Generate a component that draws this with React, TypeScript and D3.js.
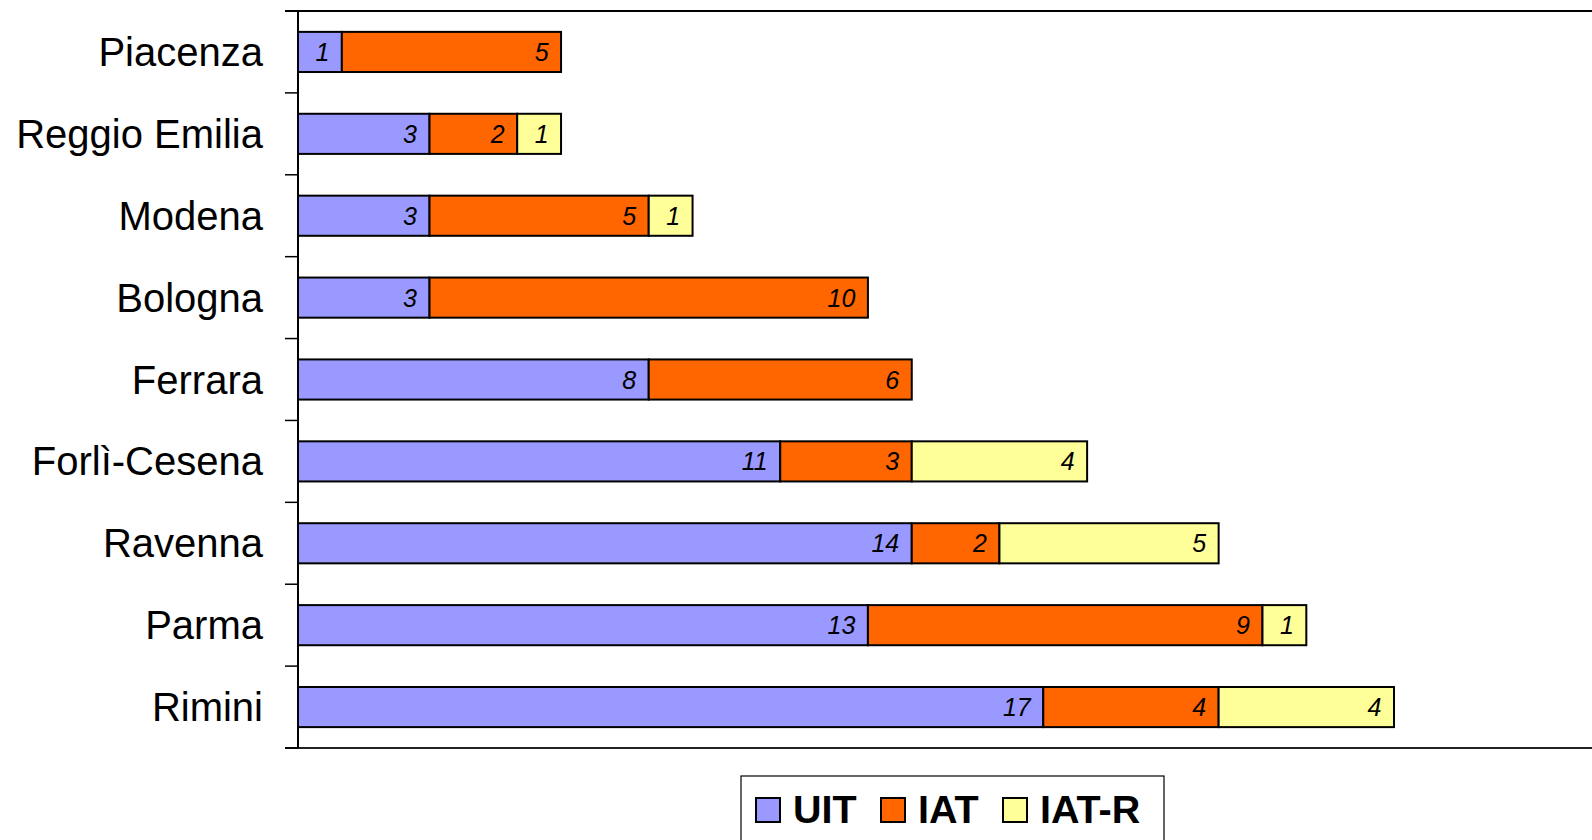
import React from "react";
import * as d3 from "d3";

const categories = ["Piacenza", "Reggio Emilia", "Modena", "Bologna", "Ferrara", "Forlì-Cesena", "Ravenna", "Parma", "Rimini"];
const uit = [1, 3, 3, 3, 8, 11, 14, 13, 17];
const iat = [5, 2, 5, 10, 6, 3, 2, 9, 4];
const iatR = [0, 1, 1, 0, 0, 4, 5, 1, 4];
const seriesNames = ["UIT", "IAT", "IAT-R"];
const colors = ["#9999FF", "#FF6600", "#FFFF99"];

const W = 1592, H = 840;
const left = 298, top = 11, bottom = 748;
const unit = 43.84;

export default function App() {
  const rows = categories.map((c, i) => ({ cat: c, UIT: uit[i], IAT: iat[i], "IAT-R": iatR[i] }));
  const stack = d3.stack<any>().keys(seriesNames)(rows);
  const x = d3.scaleLinear().domain([0, 30]).range([left, left + 30 * unit]);
  const y = d3.scaleBand().domain(categories).range([top, bottom]).paddingInner(0.51).paddingOuter(0.255);
  const band = (bottom - top) / categories.length;
  const font = "'Liberation Sans', Arial, sans-serif";

  const legendItems = [
    { name: "UIT", sx: 756, tx: 793 },
    { name: "IAT", sx: 881, tx: 918 },
    { name: "IAT-R", sx: 1003, tx: 1040 },
  ];

  return (
    <svg width={W} height={H} style={{ position: "absolute", left: 0, top: 0, background: "#fff" }} fontFamily={font}>
      {/* frame */}
      <line x1={285} x2={W} y1={top} y2={top} stroke="#000" strokeWidth={2} />
      <line x1={285} x2={W} y1={bottom} y2={bottom} stroke="#222" strokeWidth={2} />
      <line x1={left} x2={left} y1={top} y2={bottom} stroke="#000" strokeWidth={2} />
      {d3.range(categories.length + 1).map((i) => (
        <line key={i} x1={285} x2={left} y1={top + i * band} y2={top + i * band} stroke="#000" strokeWidth={1.5} />
      ))}
      {/* category labels */}
      {categories.map((c) => (
        <text key={c} x={263} y={(y(c) as number) + y.bandwidth() / 2 + 14} textAnchor="end" fontSize={40} fill="#000">
          {c}
        </text>
      ))}
      {/* bars */}
      {stack.map((s, si) => (
        <g key={s.key}>
          {s.map((d, i) => {
            const v = d[1] - d[0];
            if (v <= 0) return null;
            const x0 = x(d[0]), x1 = x(d[1]);
            const yy = y(categories[i]) as number;
            return (
              <g key={i}>
                <rect x={x0} y={yy} width={x1 - x0} height={y.bandwidth()} fill={colors[si]} stroke="#000" strokeWidth={2} />
                <text x={x1 - 12.5} y={yy + y.bandwidth() / 2 + 9} textAnchor="end" fontSize={25} fontStyle="italic" fill="#000">
                  {v}
                </text>
              </g>
            );
          })}
        </g>
      ))}
      {/* legend */}
      <rect x={741} y={776} width={423} height={80} fill="#fff" stroke="#000" strokeWidth={1.2} />
      {legendItems.map((l, i) => (
        <g key={l.name}>
          <rect x={l.sx} y={798} width={24} height={24} fill={colors[i]} stroke="#000" strokeWidth={2} />
          <text x={l.tx} y={823} fontSize={39.5} fontWeight="bold" fill="#000">
            {l.name}
          </text>
        </g>
      ))}
    </svg>
  );
}
